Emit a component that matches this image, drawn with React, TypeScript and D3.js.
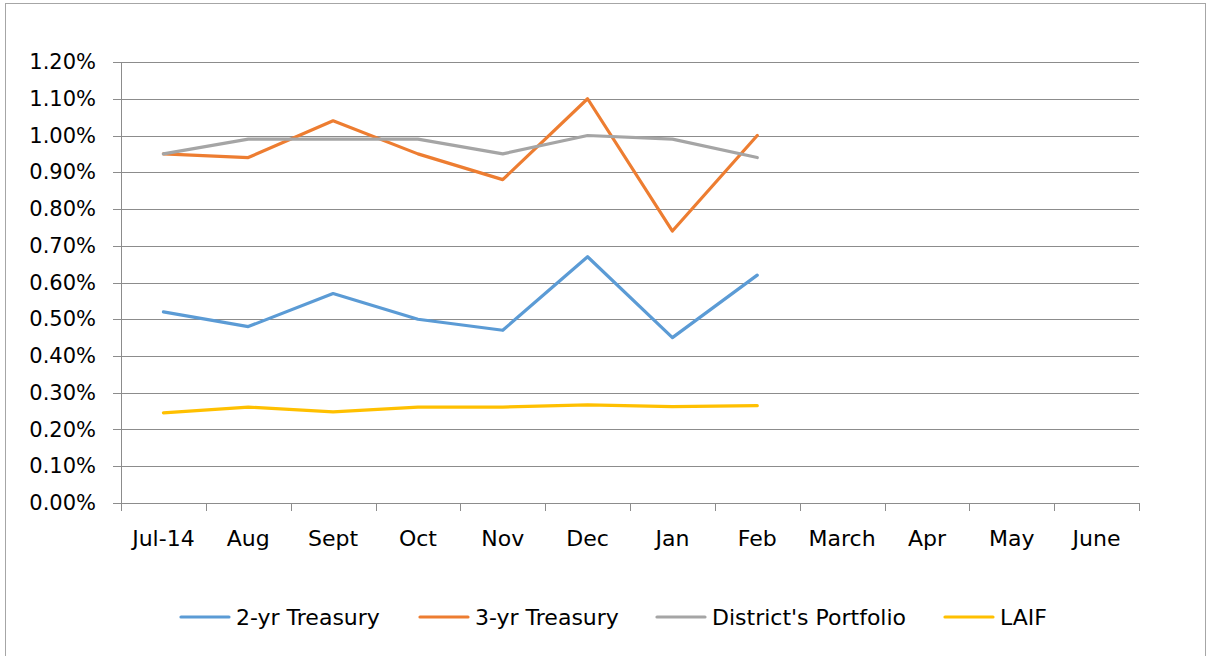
import * as d3 from 'd3';

const months = ['Jul-14', 'Aug', 'Sept', 'Oct', 'Nov', 'Dec', 'Jan', 'Feb', 'March', 'Apr', 'May', 'June'];
const twoYr = [0.52, 0.48, 0.57, 0.5, 0.47, 0.67, 0.45, 0.62];
const threeYr = [0.95, 0.94, 1.04, 0.95, 0.88, 1.1, 0.74, 1.0];
const district = [0.95, 0.99, 0.99, 0.99, 0.95, 1.0, 0.99, 0.94];
const laif = [0.245, 0.261, 0.248, 0.261, 0.261, 0.267, 0.262, 0.265];
const yTicks = [0, 0.1, 0.2, 0.3, 0.4, 0.5, 0.6, 0.7, 0.8, 0.9, 1.0, 1.1, 1.2];

const series = [
  { name: '2-yr Treasury', values: twoYr, color: '#5B9BD5' },
  { name: '3-yr Treasury', values: threeYr, color: '#ED7D31' },
  { name: "District's Portfolio", values: district, color: '#A5A5A5' },
  { name: 'LAIF', values: laif, color: '#FFC000' },
];

export default function App() {
  const W = 1207;
  const H = 656;
  const left = 121;
  const right = 1139;
  const top = 62;
  const bottom = 503;
  const font = 'DejaVu Sans, sans-serif';

  const x = d3.scaleBand<string>().domain(months).range([left, right]);
  const y = d3.scaleLinear().domain([0, 1.2]).range([bottom, top]);
  const line = d3
    .line<number>()
    .x((_, i) => (x(months[i]) || 0) + x.bandwidth() / 2)
    .y((d) => y(d));

  const legendX = [181, 420, 657, 945];

  return (
    <svg width={W} height={H} style={{ position: 'absolute', left: 0, top: 0, background: '#fff' }} fontFamily={font}>
      <rect x={5.5} y={3.5} width={1200} height={700} fill="#fff" stroke="#a6a6a6" />
      {yTicks.map((t) => (
        <g key={t}>
          <line x1={113} x2={right} y1={Math.round(y(t)) + 0.5} y2={Math.round(y(t)) + 0.5} stroke="#8c8c8c" strokeWidth={1} />
          <text x={96} y={y(t) + 7} textAnchor="end" fontSize={21} fill="#000">
            {t.toFixed(2) + '%'}
          </text>
        </g>
      ))}
      <line x1={left + 0.5} x2={left + 0.5} y1={top} y2={bottom} stroke="#8c8c8c" />
      {months.concat(['']).map((m, i) => {
        const xx = Math.round(left + i * x.step()) + 0.5;
        return <line key={i} x1={xx} x2={xx} y1={bottom} y2={bottom + 8} stroke="#8c8c8c" />;
      })}
      {months.map((m) => (
        <text key={m} x={(x(m) || 0) + x.bandwidth() / 2} y={546} textAnchor="middle" fontSize={22} fill="#000">
          {m}
        </text>
      ))}
      {series.map((s) => (
        <path key={s.name} d={line(s.values) || ''} fill="none" stroke={s.color} strokeWidth={3.2} strokeLinejoin="round" strokeLinecap="round" />
      ))}
      {series.map((s, i) => (
        <g key={s.name}>
          <line x1={legendX[i]} x2={legendX[i] + 48} y1={617} y2={617} stroke={s.color} strokeWidth={3.2} strokeLinecap="round" />
          <text x={legendX[i] + 55} y={625} fontSize={22} fill="#000">
            {s.name}
          </text>
        </g>
      ))}
    </svg>
  );
}
